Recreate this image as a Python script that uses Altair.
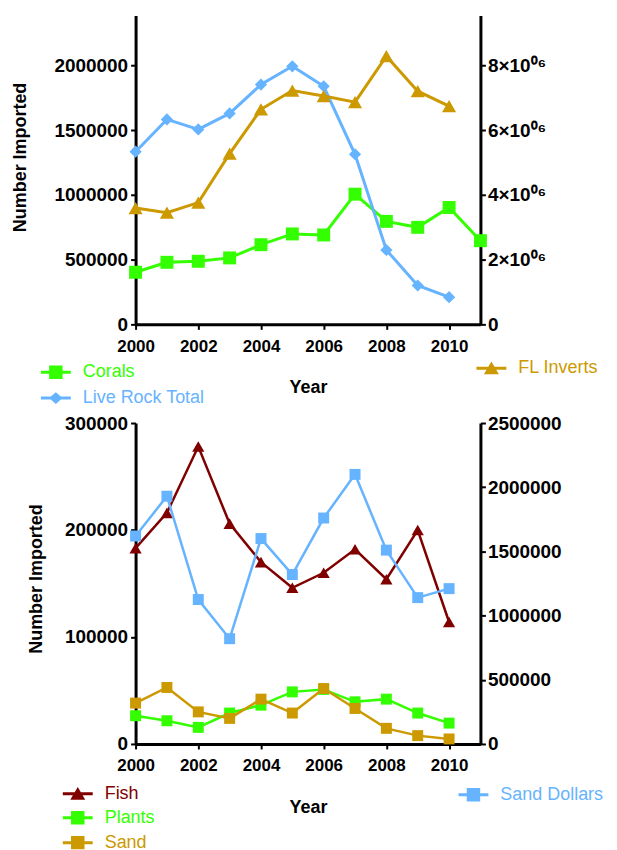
import altair as alt
import pandas as pd

# ---------------- data ----------------
years = list(range(2000, 2011))
years_corals = list(range(2000, 2012))

corals = [402000, 479000, 487000, 513000, 615000, 698000, 690000, 1005000, 795000, 749000, 902000, 646000]
live_rock = [1333000, 1582000, 1505000, 1628000, 1851000, 1992000, 1838000, 1313000, 574000, 300000, 210000]
fl_inverts = [3590000, 3450000, 3760000, 5270000, 6640000, 7220000, 7050000, 6860000, 8280000, 7200000, 6740000]

fish = [183000, 216000, 278000, 206000, 170000, 146000, 160000, 182000, 154000, 200000, 114000]
plants = [26400, 21700, 15500, 28900, 36300, 48700, 51000, 39400, 41900, 28900, 19500]
sand = [38200, 52800, 30000, 23900, 41900, 28900, 51800, 33200, 14600, 7800, 4700]
sand_dollars = [1620000, 1930000, 1125000, 820000, 1600000, 1320000, 1760000, 2100000, 1510000, 1140000, 1210000]

x_ticks = [2000, 2002, 2004, 2006, 2008, 2010]
top_left_ticks = [0, 500000, 1000000, 1500000, 2000000]
top_right_ticks = [0, 2000000, 4000000, 6000000, 8000000]
bot_left_ticks = [0, 100000, 200000, 300000]
bot_right_ticks = [0, 500000, 1000000, 1500000, 2000000, 2500000]

GREEN = "#33ff00"
BLUE = "#66b3ff"
GOLD = "#cc9900"
DARKRED = "#800000"
FONT = "Liberation Sans"

SQ_PATH = "M-1,-0.1L1,-0.1L1,0.1L-1,0.1Z M-0.45,-0.45L0.45,-0.45L0.45,0.45L-0.45,0.45Z"
DIA_PATH = "M-1,-0.1L1,-0.1L1,0.1L-1,0.1Z M0,-0.4L0.45,0L0,0.4L-0.45,0Z"
TRI_PATH = "M-1,-0.1L1,-0.1L1,0.1L-1,0.1Z M0,-0.45L0.5,0.4L-0.5,0.4Z"


def frame(name, yrs, vals):
    return pd.DataFrame({"year": yrs, "value": vals, "series": name})


def x_enc(title_pad, label_pad):
    return alt.X(
        "year:Q",
        scale=alt.Scale(domain=[2000, 2011], nice=False, zero=False),
        axis=alt.Axis(values=x_ticks, format="d", title="Year", labelFlush=False,
                      labelFontSize=17, labelPadding=label_pad, titlePadding=title_pad),
    )


def legend(lx, ly, color, path):
    return alt.Legend(orient="none", legendX=lx, legendY=ly, labelColor=color,
                      labelFont=FONT, labelFontSize=18, labelFontWeight="normal",
                      symbolType=path, symbolSize=900, symbolStrokeWidth=0,
                      symbolOpacity=1, padding=0, labelOffset=12)


def series(df, name, color, shape, msize, sw, xe, ye, leg):
    base = alt.Chart(df).encode(x=xe, y=ye)
    line = base.mark_line(color=color, strokeWidth=sw)
    pts = base.mark_point(shape=shape, filled=True, size=msize, opacity=1).encode(
        color=alt.Color("series:N", title=None,
                        scale=alt.Scale(domain=[name], range=[color]), legend=leg)
    )
    return alt.layer(line, pts)


# ---------------- top panel ----------------
xt = x_enc(24, 9)
yl_top = alt.Y("value:Q", scale=alt.Scale(domain=[0, 2385000], nice=False),
               axis=alt.Axis(orient="left", values=top_left_ticks, format="d",
                             title="Number Imported", titlePadding=24, titleY=142, labelPadding=3))
yr_top = alt.Y("value:Q", scale=alt.Scale(domain=[0, 9540000], nice=False),
               axis=alt.Axis(orient="right", values=top_right_ticks, title=None, labelPadding=2,
                             labelExpr="datum.value == 0 ? '0' : (datum.value / 1000000) + '×10⁰⁶'"))

l_corals = series(frame("Corals", years_corals, corals), "Corals", GREEN, "square", 169, 3,
                  xt, yl_top, legend(-95, 343, GREEN, SQ_PATH))
l_rock = series(frame("Live Rock Total", years, live_rock), "Live Rock Total", BLUE, "diamond", 150, 3,
                xt, yl_top, legend(-95, 369, BLUE, DIA_PATH))
l_inv = series(frame("FL Inverts", years, fl_inverts), "FL Inverts", GOLD, "triangle-up", 200, 3,
               xt, yr_top, legend(342, 339, GOLD, TRI_PATH))

top = alt.layer(
    alt.layer(l_corals, l_rock).resolve_scale(color="independent"),
    l_inv,
).resolve_scale(y="independent", color="independent").properties(width=346, height=310)

# ---------------- bottom panel ----------------
xb = x_enc(25, 9)
yl_bot = alt.Y("value:Q", scale=alt.Scale(domain=[0, 300000], nice=False),
               axis=alt.Axis(orient="left", values=bot_left_ticks, format="d",
                             title="Number Imported", titlePadding=19, titleY=156, labelPadding=3))
yr_bot = alt.Y("value:Q", scale=alt.Scale(domain=[0, 2500000], nice=False),
               axis=alt.Axis(orient="right", values=bot_right_ticks, format="d", title=None, labelPadding=2))

l_fish = series(frame("Fish", years, fish), "Fish", DARKRED, "triangle-up", 150, 2.5,
                xb, yl_bot, legend(-73, 357, DARKRED, TRI_PATH))
l_plants = series(frame("Plants", years, plants), "Plants", GREEN, "square", 121, 2.5,
                  xb, yl_bot, legend(-73, 381, GREEN, SQ_PATH))
l_sand = series(frame("Sand", years, sand), "Sand", GOLD, "square", 121, 2.5,
                xb, yl_bot, legend(-73, 406, GOLD, SQ_PATH))
l_sd = series(frame("Sand Dollars", years, sand_dollars), "Sand Dollars", BLUE, "square", 121, 2.5,
              xb, yr_bot, legend(324, 358, BLUE, SQ_PATH))

bottom = alt.layer(
    alt.layer(l_fish, l_plants, l_sand).resolve_scale(color="independent"),
    l_sd,
).resolve_scale(y="independent", color="independent").properties(width=346, height=322)

chart = alt.vconcat(top, bottom, spacing=99, bounds="flush").properties(
    padding={"left": 4, "top": 6, "right": 5, "bottom": 5}
).configure_view(stroke=None).configure_axis(
    domainColor="black", domainWidth=3, tickColor="black", tickWidth=2, tickSize=5,
    grid=False, labelFont=FONT, labelFontSize=19, labelFontWeight="bold", labelColor="black",
    titleFont=FONT, titleFontSize=18, titleFontWeight="bold", titleColor="black",
)

chart.save("out.html", embed_options={"renderer": "svg", "actions": False})
